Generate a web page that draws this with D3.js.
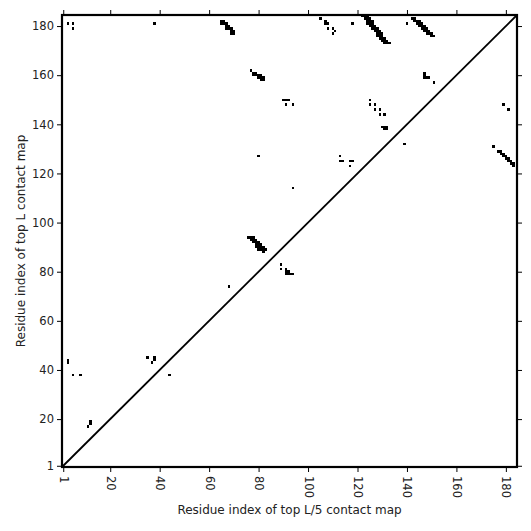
<!DOCTYPE html>
<html>
<head>
    <style>
        body { margin: 0; background: white; }
        text { font-family: "DejaVu Sans", sans-serif; }
    </style>
    <script src="https://d3js.org/d3.v7.min.js"></script>
</head>
<body>
<svg id="chart" width="531" height="531"></svg>
<script>
    // residue count and tick labels
    var nRes = 184;
    var tickVals = [1, 20, 40, 60, 80, 100, 120, 140, 160, 180];

    // contacts as [i, j] (x = top L/5 index, y = top L index)
    var topLeft = [[3,181],[5,181],[5,179],[38,181]];
    var clusterA = [[65,182],[66,182],[65,181],[66,181],[67,181],[67,180],[68,180],[67,179],[68,179],[69,179],
        [69,178],[70,178],[69,177],[70,177]];
    var topMid = [[105,183],[107,182],[107,181],[108,181],[108,179],[110,179],[111,178],[110,177],[118,181]];
    var clusterB = [[77,162],[78,161],[79,161],[78,160],[79,160],[80,160],[81,160],[80,159],[81,159],[82,159],
        [81,158],[82,158]];
    var band1 = [[122,184],[123,184],[124,184],[123,183],[124,183],[125,183],[124,182],[125,182],[126,182],
        [124,181],[125,181],[126,181],[125,180],[126,180],[127,180],[126,179],[127,179],[128,179],
        [127,178],[128,178],[129,178],[128,177],[129,177],[130,177],[128,176],[129,176],[130,176],
        [129,175],[130,175],[131,175],[130,174],[131,174],[132,174],[131,173],[132,173],[133,173]];
    var band2 = [[140,181],[142,183],[143,183],[143,182],[144,182],[145,182],[144,181],[145,181],[146,181],
        [145,180],[146,180],[147,180],[146,179],[147,179],[148,179],[147,178],[148,178],[149,178],
        [148,177],[149,177],[150,177],[150,176],[151,176]];
    var clusterD = [[147,161],[147,160],[147,159],[148,159],[149,159],[151,157]];
    var middle = [[90,150],[91,150],[92,150],[91,148],[94,148],
        [125,150],[125,148],[127,148],[127,146],[129,146],[129,144],[131,144],
        [130,139],[131,139],[132,139],[131,138],[132,138],[139,132],
        [113,127],[113,125],[114,125],[117,125],[118,125],[117,123],[80,127],[94,114],
        [179,148],[181,146]];
    var band3 = [[175,131],[177,129],[178,129],[178,128],[179,128],[179,127],[180,127],[180,126],
        [181,126],[181,125],[182,125],[182,124],[183,124],[183,123]];
    var clusterC = [[76,94],[77,94],[78,94],[77,93],[78,93],[79,93],[78,92],[79,92],[80,92],[79,91],[80,91],[81,91],
        [79,90],[80,90],[81,90],[82,90],[80,89],[81,89],[82,89],[83,89],[82,88]];
    var lower = [[89,83],[89,81],[91,81],[91,80],[92,80],[91,79],[92,79],[93,79],[94,79],[68,74],
        [3,44],[3,43],[5,38],[8,38],[12,19],[12,18],[11,17],[35,45],[37,43],[38,44],[38,45],[44,38]];

    var contacts = [].concat(topLeft, clusterA, topMid, clusterB, band1, band2, clusterD, middle, band3, clusterC, lower);

    var margin = {top: 15, right: 14, bottom: 64, left: 62};
    var svg = d3.select("#chart");
    var width = 531 - margin.left - margin.right,
        height = 531 - margin.top - margin.bottom;

    var g = svg.append("g").attr("transform", "translate(" + margin.left + "," + margin.top + ")");

    var x = d3.scaleLinear().domain([0.5, nRes + 0.5]).range([0, width]);
    var y = d3.scaleLinear().domain([0.5, nRes + 0.5]).range([height, 0]);

    // contact cells
    g.selectAll("rect.cell")
        .data(contacts)
        .join("rect")
        .attr("class", "cell")
        .attr("x", d => x(d[0] - 0.5))
        .attr("y", d => y(d[1] + 0.5))
        .attr("width", x(1.5) - x(0.5))
        .attr("height", y(0.5) - y(1.5))
        .attr("fill", "black")
        .attr("shape-rendering", "crispEdges");

    // diagonal
    g.append("line")
        .attr("x1", x(0.5)).attr("y1", y(0.5))
        .attr("x2", x(nRes + 0.5)).attr("y2", y(nRes + 0.5))
        .attr("stroke", "black").attr("stroke-width", 1.8);

    // axes
    var xAxis = g.append("g").attr("transform", "translate(0," + height + ")")
        .call(d3.axisBottom(x).tickValues(tickVals).tickSize(5).tickPadding(4));
    xAxis.selectAll("text")
        .attr("transform", "rotate(90)")
        .attr("text-anchor", "start")
        .attr("dy", "0.35em")
        .attr("x", 9).attr("y", 0);

    var yAxis = g.append("g")
        .call(d3.axisLeft(y).tickValues(tickVals).tickSize(5).tickPadding(3));

    g.append("g").attr("transform", "translate(0,0)")
        .call(d3.axisTop(x).tickValues(tickVals).tickSize(5).tickFormat(""));
    g.append("g").attr("transform", "translate(" + width + ",0)")
        .call(d3.axisRight(y).tickValues(tickVals).tickSize(5).tickFormat(""));

    g.selectAll(".domain").remove();
    g.selectAll(".tick line").attr("stroke", "black").attr("stroke-width", 1);
    g.selectAll(".tick text").style("font-size", "11.5px").attr("fill", "#222");

    // frame
    g.append("rect")
        .attr("x", 0).attr("y", 0)
        .attr("width", width).attr("height", height)
        .attr("fill", "none").attr("stroke", "black").attr("stroke-width", 2.2);

    // axis labels
    svg.append("text")
        .attr("x", margin.left + width / 2)
        .attr("y", 514)
        .attr("text-anchor", "middle")
        .style("font-size", "12px")
        .attr("fill", "#222")
        .text("Residue index of top L/5 contact map");

    svg.append("text")
        .attr("transform", "rotate(-90)")
        .attr("x", -(margin.top + height / 2))
        .attr("y", 25)
        .attr("text-anchor", "middle")
        .style("font-size", "12px")
        .attr("fill", "#222")
        .text("Residue index of top L contact map");
</script>
</body>
</html>
